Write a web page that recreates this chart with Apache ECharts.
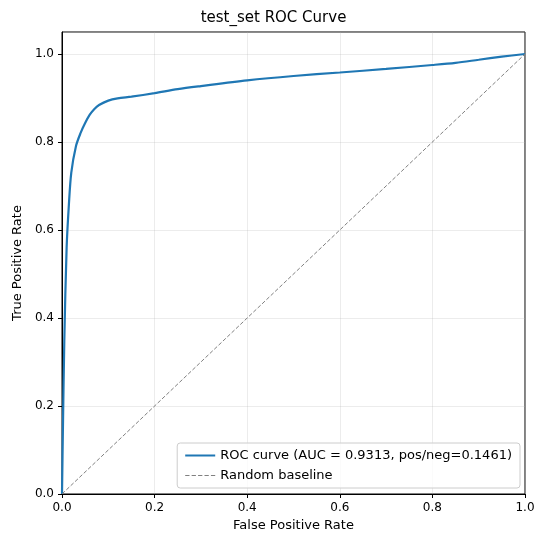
<!DOCTYPE html>
<html><head><meta charset="utf-8">
<script src="https://cdn.jsdelivr.net/npm/echarts@6/dist/echarts.min.js"></script>
<style>html,body{margin:0;padding:0;background:#fff}#c{width:547px;height:547px}</style>
</head><body><div id="c"></div>
<script>
const rocFpr = [0,0.002,0.005,0.01,0.015,0.02,0.03,0.04,0.05,0.06,0.07,0.08,0.1,0.12,0.15,0.2,0.25,0.3,0.4,0.5,0.6,0.7,0.8,0.85,0.9,0.95,1.0];
const rocTpr = [0,0.15,0.35,0.56,0.66,0.73,0.79,0.82,0.843,0.862,0.875,0.884,0.894,0.899,0.903,0.911,0.92,0.927,0.94,0.95,0.958,0.966,0.975,0.98,0.987,0.994,1.0];
const baseX = [0,1];
const baseY = [0,1];
const axisTicks = [0,0.2,0.4,0.6,0.8,1.0];
const font = 'DejaVu Sans';
const chart = echarts.init(document.getElementById('c'));
const ax = (name, gap, max) => ({
  type:'value', min:0, max:max, interval:0.2, name:name, nameLocation:'middle', nameGap:gap,
  nameTextStyle:{color:'#000',fontSize:13,fontFamily:font},
  axisLine:{show:true,lineStyle:{color:'#000',width:1}},
  axisTick:{show:true,inside:false,length:4,lineStyle:{color:'#000'}},
  axisLabel:{color:'#000',fontSize:12,fontFamily:font,showMaxLabel: max===1.0,
    formatter:v=>axisTicks.some(t=>Math.abs(t-v)<1e-9)?v.toFixed(1):''},
  splitLine:{show:true,lineStyle:{color:'rgba(176,176,176,0.3)',width:0.8}}
});
chart.setOption({
  animation:false,
  title:{text:'test_set ROC Curve',left:'center',top:6,textStyle:{fontFamily:font,fontSize:15,fontWeight:'normal',color:'#000'}},
  grid:{left:62,right:22,top:32,bottom:53,show:true,borderColor:'#000',borderWidth:1},
  xAxis:ax('False Positive Rate',22,1.0),
  yAxis:ax('True Positive Rate',36,1.05),
  legend:{right:27,bottom:59,orient:'vertical',itemGap:7,itemWidth:30,itemHeight:10,
    backgroundColor:'rgba(255,255,255,0.8)',borderColor:'#ccc',borderWidth:1,borderRadius:3,padding:[6,8],
    textStyle:{fontFamily:font,fontSize:13,color:'#000'},
    data:[{name:'ROC curve (AUC = 0.9313, pos/neg=0.1461)',icon:'path://M0,4L30,4L30,6L0,6Z'},
          {name:'Random baseline',icon:'path://M0,4.5L4,4.5L4,5.5L0,5.5ZM6,4.5L10,4.5L10,5.5L6,5.5ZM12,4.5L16,4.5L16,5.5L12,5.5ZM18,4.5L22,4.5L22,5.5L18,5.5ZM24,4.5L28,4.5L28,5.5L24,5.5Z'}]},
  series:[
    {name:'ROC curve (AUC = 0.9313, pos/neg=0.1461)',type:'line',showSymbol:false,smooth:0.3,
     data:rocFpr.map((x,i)=>[x,rocTpr[i]]),lineStyle:{color:'#1f77b4',width:2.2},itemStyle:{color:'#1f77b4'}},
    {name:'Random baseline',type:'line',showSymbol:false,
     data:baseX.map((x,i)=>[x,baseY[i]]),lineStyle:{color:'#808080',width:1,type:[4,2]},itemStyle:{color:'#808080'}}
  ]
});
</script></body></html>
